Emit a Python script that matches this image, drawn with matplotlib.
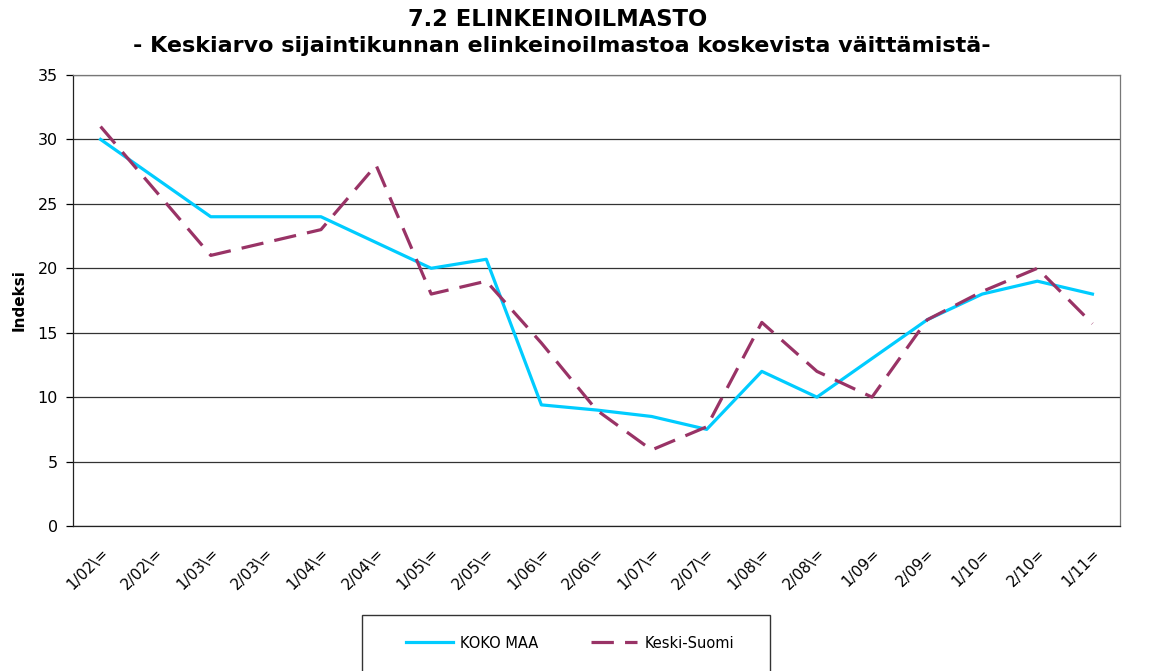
import numpy as np
import matplotlib
matplotlib.use("Agg")
import matplotlib.pyplot as plt
from matplotlib.patches import Rectangle

# the reference text is wide, DejaVu Sans comes closest
plt.rcParams['font.family'] = ['DejaVu Sans']

periods = ["1/02\\=", "2/02\\=", "1/03\\=", "2/03\\=", "1/04\\=", "2/04\\=", "1/05\\=",
           "2/05\\=", "1/06\\=", "2/06\\=", "1/07\\=", "2/07\\=", "1/08\\=", "2/08\\=",
           "1/09=", "2/09=", "1/10=", "2/10=", "1/11="]
koko_maa = [30, 27, 24, 24, 24, 22, 20, 20.7, 9.4, 9.0, 8.5, 7.5, 12, 10, 13, 16, 18, 19, 18]
keski_suomi = [31, 26, 21, 22, 23, 28, 18, 19, 14.2, 9.0, 5.9, 7.7, 15.8, 12, 10, 16, 18.2, 20, 15.7]

W, H = 1152, 671
fig = plt.figure(figsize=(W / 100, H / 100), dpi=100)
ax = fig.add_axes([73 / W, 1 - 526 / H, (1120 - 73) / W, (526 - 75) / H])

x = np.arange(len(periods))
ax.plot(x, koko_maa, color="#00CCFF", lw=2.3, label="KOKO MAA", zorder=3)
ax.plot(x, keski_suomi, color="#993366", lw=2.3, dashes=(7, 3.5), label="Keski-Suomi", zorder=3)

ax.set_xlim(-0.5, len(periods) - 0.5)
ax.set_ylim(0, 35)
ax.set_yticks(np.arange(0, 36, 5))
ax.yaxis.grid(True, color="#333333", lw=0.9)
ax.set_axisbelow(True)
ax.set_xticks(x)
ax.set_xticklabels(periods, rotation=45, ha="right", rotation_mode="anchor", fontsize=11)
ax.tick_params(axis="y", labelsize=11.5, length=5, width=0.9, direction="out", pad=6)
ax.tick_params(axis="x", length=0, pad=14)
for s in ax.spines.values():
    s.set_linewidth(0.9)
    s.set_color("#222222")
ax.spines["top"].set_color("#777777")
ax.spines["right"].set_color("#777777")

ax.set_ylabel("Indeksi", fontsize=11, fontweight="bold", labelpad=8)

fig.text(558 / W, 1 - 19.5 / H, "7.2 ELINKEINOILMASTO", ha="center", va="center",
         fontsize=16.3, fontweight="bold")
fig.text(562 / W, 1 - 46 / H, "- Keskiarvo sijaintikunnan elinkeinoilmastoa koskevista väittämistä-",
         ha="center", va="center", fontsize=16, fontweight="bold")

fig.patches.append(Rectangle((362 / W, -0.05), (770 - 362) / W, 0.05 + (671 - 615) / H,
                             transform=fig.transFigure, fill=False, ec="#333333", lw=1))
fig.legend(loc="center", bbox_to_anchor=(570 / W, 1 - 643 / H), ncol=2, frameon=False,
           fontsize=10.5, handlelength=3.2, columnspacing=3.6, handletextpad=0.5)

fig.savefig("out.png", dpi=100)
